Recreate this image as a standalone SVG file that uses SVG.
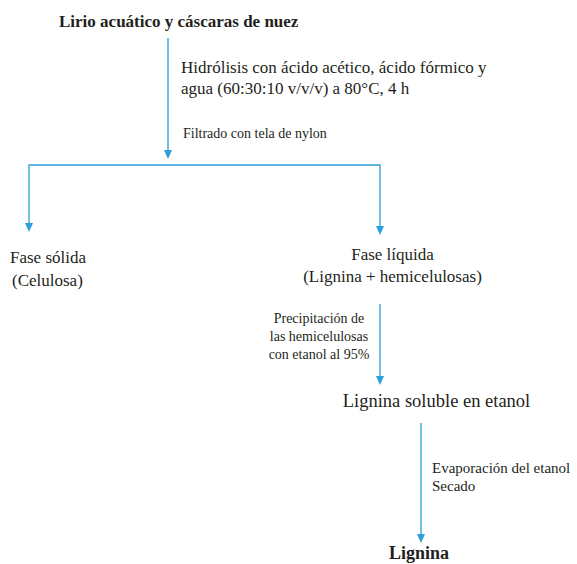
<svg xmlns="http://www.w3.org/2000/svg" width="577" height="564" viewBox="0 0 577 564">
<rect width="577" height="564" fill="#fff"/>
<g id="connectors" stroke="#2a9fd8" stroke-width="1.3" fill="none">
<line x1="168" y1="38" x2="168" y2="152"/>
<polyline points="29,226 29,165 380,165 380,228"/>
<line x1="380" y1="304" x2="380" y2="378"/>
<line x1="421" y1="423" x2="421" y2="536"/>
<g fill="#2a9fd8" stroke="none">
<path d="M164,150 L172,150 L168,159 Z"/>
<path d="M25,223 L33,223 L29,232 Z"/>
<path d="M376,226 L384,226 L380,235 Z"/>
<path d="M376,376 L384,376 L380,385 Z"/>
<path d="M417,534 L425,534 L421,543 Z"/>
</g>
</g>
<g id="labels" fill="#231f20">
<text font-family="Liberation Serif" font-size="17" x="181" y="73">Hidrólisis con ácido acético, ácido fórmico y</text>
<text font-family="Liberation Serif" font-size="17" x="181" y="94">agua (60:30:10 v/v/v) a 80°C, 4 h</text>
<text font-family="Liberation Serif" font-size="14" x="183" y="138">Filtrado con tela de nylon</text>
<text font-family="Liberation Serif" font-size="14" x="319" y="323" text-anchor="middle">Precipitación de</text>
<text font-family="Liberation Serif" font-size="14" x="319" y="341" text-anchor="middle">las hemicelulosas</text>
<text font-family="Liberation Serif" font-size="14" x="319" y="359" text-anchor="middle">con etanol al 95%</text>
<text font-family="Liberation Serif" font-size="15" x="432" y="473">Evaporación del etanol</text>
<text font-family="Liberation Serif" font-size="15" x="432" y="491">Secado</text>
</g>
<g id="n-start" fill="#231f20"><text font-family="Liberation Serif" font-size="17" font-weight="bold" x="59" y="27">Lirio acuático y cáscaras de nuez</text></g>
<g id="n-solid" fill="#231f20"><text font-family="Liberation Serif" font-size="17" x="10" y="263">Fase sólida</text><text font-family="Liberation Serif" font-size="17" x="12" y="286">(Celulosa)</text></g>
<g id="n-liquid" fill="#231f20"><text font-family="Liberation Serif" font-size="17" x="392.5" y="260" text-anchor="middle">Fase líquida</text><text font-family="Liberation Serif" font-size="17" x="392.5" y="282" text-anchor="middle">(Lignina + hemicelulosas)</text></g>
<g id="n-soluble" fill="#231f20"><text font-family="Liberation Serif" font-size="18.5" x="436.5" y="407" text-anchor="middle">Lignina soluble en etanol</text></g>
<g id="n-lignina" fill="#231f20"><text font-family="Liberation Serif" font-size="18" font-weight="bold" x="419" y="559" text-anchor="middle">Lignina</text></g>
</svg>
